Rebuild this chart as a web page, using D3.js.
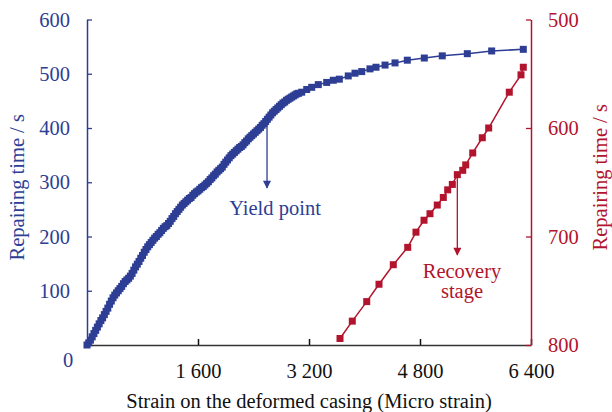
<!DOCTYPE html>
<html>
<head>
<meta charset="utf-8">
<script src="https://cdn.jsdelivr.net/npm/d3@7"></script>
<style>
  body { margin: 0; background: #fff; }
  svg text { font-family: "Liberation Serif", "Times New Roman", serif; }
</style>
</head>
<body>
<div id="chart"></div>
<script>
// Blue series: strain vs repairing time (left axis), dense up to ~3000
const blueStrain = [0, 25, 50, 75, 100, 125, 150, 175, 200, 225, 250, 275, 300, 325, 350, 375, 400, 425, 450, 475,
    500, 525, 550, 575, 600, 625, 650, 675, 700, 725, 750, 775, 800, 825, 850, 875, 900, 925, 950, 975,
    1000, 1025, 1050, 1075, 1100, 1125, 1150, 1175, 1200, 1225, 1250, 1275, 1300, 1325, 1350, 1375, 1400, 1425, 1450, 1475,
    1500, 1525, 1550, 1575, 1600, 1625, 1650, 1675, 1700, 1725, 1750, 1775, 1800, 1825, 1850, 1875, 1900, 1925, 1950, 1975,
    2000, 2025, 2050, 2075, 2100, 2125, 2150, 2175, 2200, 2225, 2250, 2275, 2300, 2325, 2350, 2375, 2400, 2425, 2450, 2475,
    2500, 2525, 2550, 2575, 2600, 2625, 2650, 2675, 2700, 2725, 2750, 2775, 2800, 2825, 2850, 2875, 2900, 2925, 2950, 2975,
    3000, 3025, 3050, 3095, 3167, 3239, 3334, 3455, 3550, 3637, 3766, 3863, 3960, 4079, 4166, 4296, 4440, 4617, 4862, 5121,
    5482, 5833, 6289];
const blueTime = [0, 4, 9, 15, 21, 27, 33, 39, 45, 50, 56, 62, 68, 75, 81, 87, 92, 96, 100, 104,
    108, 113, 117, 120, 123, 127, 132, 138, 144, 149, 154, 160, 165, 171, 176, 181, 185, 189, 193, 197,
    200, 204, 207, 211, 215, 218, 220, 224, 228, 233, 237, 242, 246, 250, 254, 258, 261, 264, 267, 270,
    272, 276, 279, 282, 284, 287, 290, 292, 295, 298, 301, 305, 308, 312, 315, 319, 322, 325, 328, 333,
    337, 341, 345, 349, 352, 355, 358, 361, 364, 366, 369, 373, 376, 380, 383, 386, 389, 392, 395, 398,
    401, 405, 408, 412, 416, 420, 424, 428, 431, 434, 437, 440, 443, 446, 448, 451, 453, 455, 457, 459,
    461, 463, 464, 466, 471, 475, 480, 484, 488, 490, 496, 501, 504, 509, 512, 516, 520, 525, 529, 533,
    537, 542, 545];

// Red series: recovery stage (right axis, reversed)
const redStrain = [3647, 3824, 4032, 4209, 4415, 4623, 4742, 4858, 4944, 5049, 5136, 5199, 5266, 5338, 5416, 5459,
    5560, 5698, 5790, 6087, 6256, 6289];
const redTime = [794, 778, 760, 744, 726, 710, 696, 685, 679, 671, 664, 657, 652, 643, 639, 634,
    623, 609, 600, 567, 551, 544];

const xTicks = [1600, 3200, 4800, 6400];
const leftTicks = [100, 200, 300, 400, 500, 600];
const rightTicks = [500, 600, 700, 800];

const blue = "#2d3e94";
const red = "#b2142d";
const fs = "20.5px";

const W = 612, H = 412;
const svg = d3.select("#chart").append("svg")
    .attr("width", W)
    .attr("height", H);

const x = d3.scaleLinear().domain([0, 6400]).range([87, 531]);
const yL = d3.scaleLinear().domain([0, 600]).range([345, 19.5]);
const yR = d3.scaleLinear().domain([800, 500]).range([345, 19.5]);

const fmt = d => d3.format(",")(d).replace(",", " ");

// bottom axis
const xAxis = svg.append("g")
    .attr("transform", `translate(0,${yL(0)})`)
    .call(d3.axisBottom(x).tickValues(xTicks).tickFormat(fmt).tickSize(-6).tickSizeOuter(0).tickPadding(18));
xAxis.select(".domain").attr("stroke", "#333").attr("stroke-width", 1.3);
xAxis.selectAll(".tick line").attr("stroke", "#111").attr("stroke-width", 1.5);
xAxis.selectAll("text").attr("fill", "#111").style("font-size", fs);

// left axis
const lAxis = svg.append("g")
    .attr("transform", `translate(${x(0)},0)`)
    .call(d3.axisLeft(yL).tickValues(leftTicks).tickSize(-5).tickSizeOuter(0).tickPadding(17));
lAxis.select(".domain").attr("stroke", blue).attr("stroke-width", 1.5);
lAxis.selectAll(".tick line").attr("stroke", blue).attr("stroke-width", 1.3);
lAxis.selectAll("text").attr("fill", blue).style("font-size", fs);

// right axis
const rAxis = svg.append("g")
    .attr("transform", `translate(${x(6400)},0)`)
    .call(d3.axisRight(yR).tickValues(rightTicks).tickSize(-5).tickSizeOuter(0).tickPadding(17));
rAxis.select(".domain").attr("stroke", red).attr("stroke-width", 1.5);
rAxis.selectAll(".tick line").attr("stroke", red).attr("stroke-width", 1.3);
rAxis.selectAll("text").attr("fill", red).style("font-size", fs);

// origin label
svg.append("text")
    .attr("x", 68).attr("y", 367)
    .attr("text-anchor", "middle")
    .attr("fill", blue)
    .style("font-size", fs)
    .text("0");

// axis titles
svg.append("text")
    .attr("transform", `translate(24,${(19.5 + 345) / 2 + 5}) rotate(-90)`)
    .attr("text-anchor", "middle")
    .attr("fill", blue)
    .style("font-size", fs)
    .text("Repairing time / s");

svg.append("text")
    .attr("transform", `translate(607,${(19.5 + 345) / 2 - 5}) rotate(-90)`)
    .attr("text-anchor", "middle")
    .attr("fill", red)
    .style("font-size", fs)
    .text("Repairing time / s");

svg.append("text")
    .attr("x", (x(0) + x(6400)) / 2)
    .attr("y", 408)
    .attr("text-anchor", "middle")
    .attr("fill", "#111")
    .style("font-size", fs)
    .text("Strain on the deformed casing (Micro strain)");

// blue series
const blueData = blueStrain.map((s, i) => ({ s, t: blueTime[i] }));
svg.append("path")
    .datum(blueData)
    .attr("fill", "none")
    .attr("stroke", blue)
    .attr("stroke-width", 1.5)
    .attr("d", d3.line().x(d => x(d.s)).y(d => yL(d.t)));
svg.selectAll(".bsq")
    .data(blueData)
    .enter().append("rect")
    .attr("class", "bsq")
    .attr("x", d => x(d.s) - 3.5)
    .attr("y", d => yL(d.t) - 3.5)
    .attr("width", 7)
    .attr("height", 7)
    .attr("fill", blue);

// red series
const redData = redStrain.map((s, i) => ({ s, t: redTime[i] }));
svg.append("path")
    .datum(redData)
    .attr("fill", "none")
    .attr("stroke", red)
    .attr("stroke-width", 1.5)
    .attr("d", d3.line().x(d => x(d.s)).y(d => yR(d.t)));
svg.selectAll(".rsq")
    .data(redData)
    .enter().append("rect")
    .attr("class", "rsq")
    .attr("x", d => x(d.s) - 3.5)
    .attr("y", d => yR(d.t) - 3.5)
    .attr("width", 7)
    .attr("height", 7)
    .attr("fill", red);

// arrow markers
const defs = svg.append("defs");
[["arrBlue", blue], ["arrRed", red]].forEach(([id, c]) => {
    defs.append("marker")
        .attr("id", id)
        .attr("viewBox", "0 0 10 10")
        .attr("refX", 9).attr("refY", 5)
        .attr("markerWidth", 9).attr("markerHeight", 8)
        .attr("markerUnits", "userSpaceOnUse")
        .attr("orient", "auto")
        .append("path")
        .attr("d", "M0,0 L10,5 L0,10 z")
        .attr("fill", c);
});

// yield point annotation
svg.append("line")
    .attr("x1", x(2595)).attr("x2", x(2595))
    .attr("y1", yL(420)).attr("y2", 188)
    .attr("stroke", blue).attr("stroke-width", 1.3)
    .attr("marker-end", "url(#arrBlue)");
svg.append("text")
    .attr("x", 275).attr("y", 215)
    .attr("text-anchor", "middle")
    .attr("fill", blue)
    .style("font-size", fs)
    .text("Yield point");

// recovery stage annotation
svg.append("line")
    .attr("x1", x(5338)).attr("x2", x(5338))
    .attr("y1", yR(643)).attr("y2", 255)
    .attr("stroke", red).attr("stroke-width", 1.3)
    .attr("marker-end", "url(#arrRed)");
svg.append("text")
    .attr("x", 462).attr("y", 278)
    .attr("text-anchor", "middle")
    .attr("fill", red)
    .style("font-size", fs)
    .text("Recovery");
svg.append("text")
    .attr("x", 462).attr("y", 298)
    .attr("text-anchor", "middle")
    .attr("fill", red)
    .style("font-size", fs)
    .text("stage");
</script>
</body>
</html>
